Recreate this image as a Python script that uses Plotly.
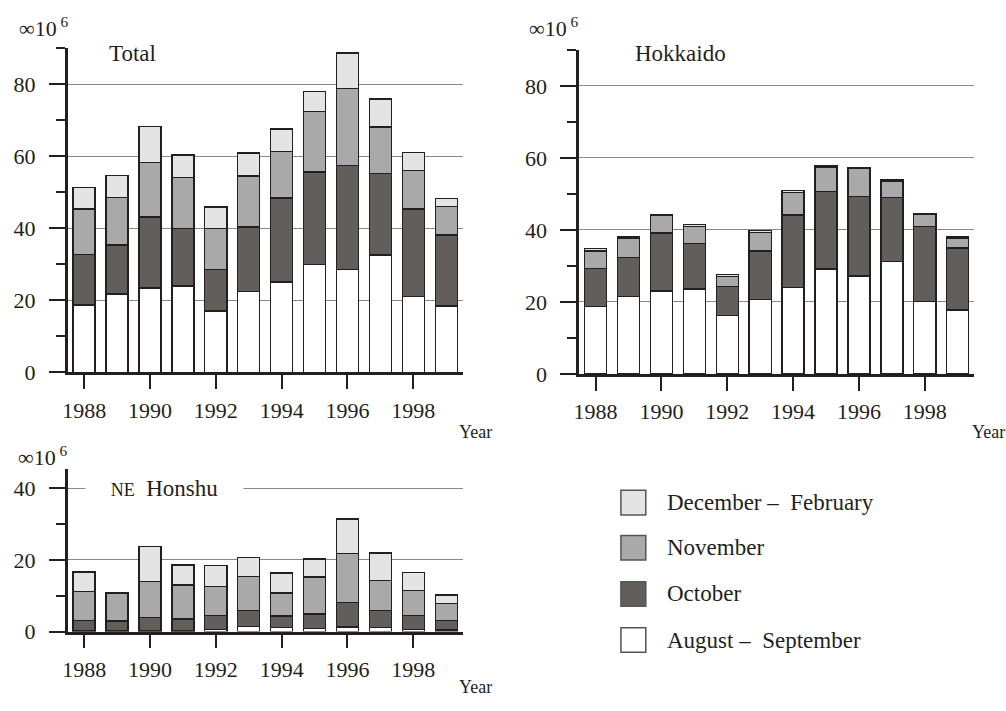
import plotly.graph_objects as go

# ---------------- data ----------------
years = [1988, 1989, 1990, 1991, 1992, 1993, 1994, 1995, 1996, 1997, 1998, 1999]
tick_years = [1988, 1990, 1992, 1994, 1996, 1998]

series_names = ["August – September", "October", "November", "December – February"]

total_aug = [18.7, 21.8, 23.4, 24.0, 17.0, 22.4, 25.1, 30.0, 28.6, 32.6, 21.0, 18.4]
total_oct = [14.0, 13.6, 19.8, 16.0, 11.6, 18.0, 23.3, 25.7, 28.8, 22.6, 24.4, 19.8]
total_nov = [12.7, 13.2, 15.1, 14.1, 11.4, 14.2, 13.0, 16.8, 21.5, 13.0, 10.6, 7.8]
total_dec = [5.9, 6.1, 10.0, 6.3, 5.9, 6.3, 6.2, 5.5, 9.8, 7.7, 5.1, 2.3]

hok_aug = [18.8, 21.6, 23.1, 23.6, 16.2, 20.7, 24.0, 29.1, 27.2, 31.3, 20.2, 17.8]
hok_oct = [10.5, 10.7, 16.1, 12.6, 8.1, 13.5, 20.1, 21.6, 22.0, 17.7, 20.8, 17.2]
hok_nov = [4.8, 5.4, 4.9, 4.7, 2.8, 5.1, 6.3, 6.6, 7.9, 4.4, 3.2, 2.7]
hok_dec = [0.7, 0.3, 0.2, 0.6, 0.5, 0.5, 0.6, 0.4, 0.2, 0.4, 0.3, 0.3]

hon_aug = [0.2, 0.1, 0.2, 0.2, 0.6, 1.4, 1.1, 0.8, 1.3, 1.2, 0.6, 0.4]
hon_oct = [2.8, 2.8, 3.7, 3.3, 3.8, 4.5, 3.2, 4.1, 6.8, 4.7, 3.9, 2.6]
hon_nov = [8.2, 7.9, 10.0, 9.5, 8.1, 9.4, 6.5, 10.3, 13.7, 8.4, 6.9, 4.9]
hon_dec = [5.4, 0.0, 9.8, 5.6, 5.9, 5.4, 5.5, 5.0, 9.6, 7.6, 5.1, 2.3]

# ---------------- style ----------------
W, H = 1006, 711
FONT = "Liberation Serif"
INK = "#231f20"
GRID = "#8a8a8a"
colors = {"August – September": "#ffffff", "October": "#625e5c",
          "November": "#a9a9a9", "December – February": "#e4e4e4"}


def px(x):
    return x / W


def py(y):
    return 1 - y / H


panels = [
    ("Total", [total_aug, total_oct, total_nov, total_dec], "x", "y",
     (63, 460), (379.3, 49.3), [0, 90], [0, 20, 40, 60, 80]),
    ("Hokkaido", [hok_aug, hok_oct, hok_nov, hok_dec], "x2", "y2",
     (577, 974), (381, 50.7), [0, 90], [0, 20, 40, 60, 80]),
    ("NE Honshu", [hon_aug, hon_oct, hon_nov, hon_dec], "x3", "y3",
     (63, 460), (643.3, 477.3), [0, 45.5], [0, 20, 40]),
]

fig = go.Figure()
layout = dict(
    width=W, height=H, margin=dict(l=0, r=0, t=0, b=0, pad=0),
    paper_bgcolor="white", plot_bgcolor="white",
    barmode="stack", bargap=0.33, showlegend=False,
    font=dict(family=FONT, size=22, color=INK),
)

for i, (name, data, xa, ya, xd, yd, yr, yt) in enumerate(panels):
    for sname, vals in zip(series_names, data):
        fig.add_trace(go.Bar(
            x=years, y=vals, name=sname, xaxis=xa, yaxis=ya,
            marker=dict(color=colors[sname], line=dict(color=INK, width=1.4)),
            showlegend=False,
        ))
    sfx = "" if i == 0 else str(i + 1)
    layout["xaxis" + sfx] = dict(
        domain=[px(xd[0]), px(xd[1])], range=[1987.5, 1999.5], anchor=ya,
        showgrid=False, zeroline=False, showline=True, linewidth=2.5, linecolor=INK,
        ticks="outside", ticklen=14, tickwidth=2, tickcolor=INK,
        tickmode="array", tickvals=tick_years, ticktext=[str(t) for t in tick_years],
        ticklabelstandoff=2, tickfont=dict(family=FONT, size=22, color=INK),
        fixedrange=True,
    )
    layout["yaxis" + sfx] = dict(
        domain=[py(yd[0]), py(yd[1])], range=yr, anchor=xa,
        showgrid=True, gridcolor=GRID, gridwidth=1, zeroline=False,
        showline=True, linewidth=2.5, linecolor=INK,
        tickmode="array", tickvals=yt,
        ticks="outside", ticklen=16, tickwidth=2, tickcolor=INK,
        minor=dict(ticks="outside", ticklen=9, tickwidth=2, tickcolor=INK, dtick=10, tick0=0,
                   showgrid=False),
        ticklabelstandoff=9, tickfont=dict(family=FONT, size=22, color=INK),
        fixedrange=True,
    )


def note(x, y, text, size=23, xanchor="center", **kw):
    return dict(x=px(x), y=py(y), xref="paper", yref="paper", text=text, showarrow=False,
                xanchor=xanchor, yanchor="middle", font=dict(family=FONT, size=size, color=INK),
                **kw)


annotations = [
    note(128, 54, "Total"),
    note(679, 54, "Hokkaido"),
    note(160, 498, "<span style='font-size:18px'>NE</span>&nbsp; Honshu",
         bgcolor="white", width=155),
]
for ux, uy in [(12, 27), (525, 27), (11, 465)]:
    annotations.append(note(ux, uy, "∞10<sup> 6</sup>", size=22, xanchor="left"))
for yx, yy in [(473, 440), (988, 440), (473, 700)]:
    annotations.append(note(yx, yy, "Year", size=18))

shapes = []
legend_order = ["December – February", "November", "October", "August – September"]
legend_y = [512, 558, 605, 652]
for sname, ly in zip(legend_order, legend_y):
    shapes.append(dict(type="rect", xref="paper", yref="paper",
                       x0=px(619), x1=px(644), y0=py(ly + 12.5), y1=py(ly - 12.5),
                       fillcolor=colors[sname], line=dict(color="#555555", width=1.5)))
    annotations.append(note(663, ly, sname.replace("–", "– "), xanchor="left"))

layout["annotations"] = annotations
layout["shapes"] = shapes
fig.update_layout(**layout)

fig.write_html(
    "out.html",
    config={"displayModeBar": False},
    post_script="document.body.style.margin='0';",
)
